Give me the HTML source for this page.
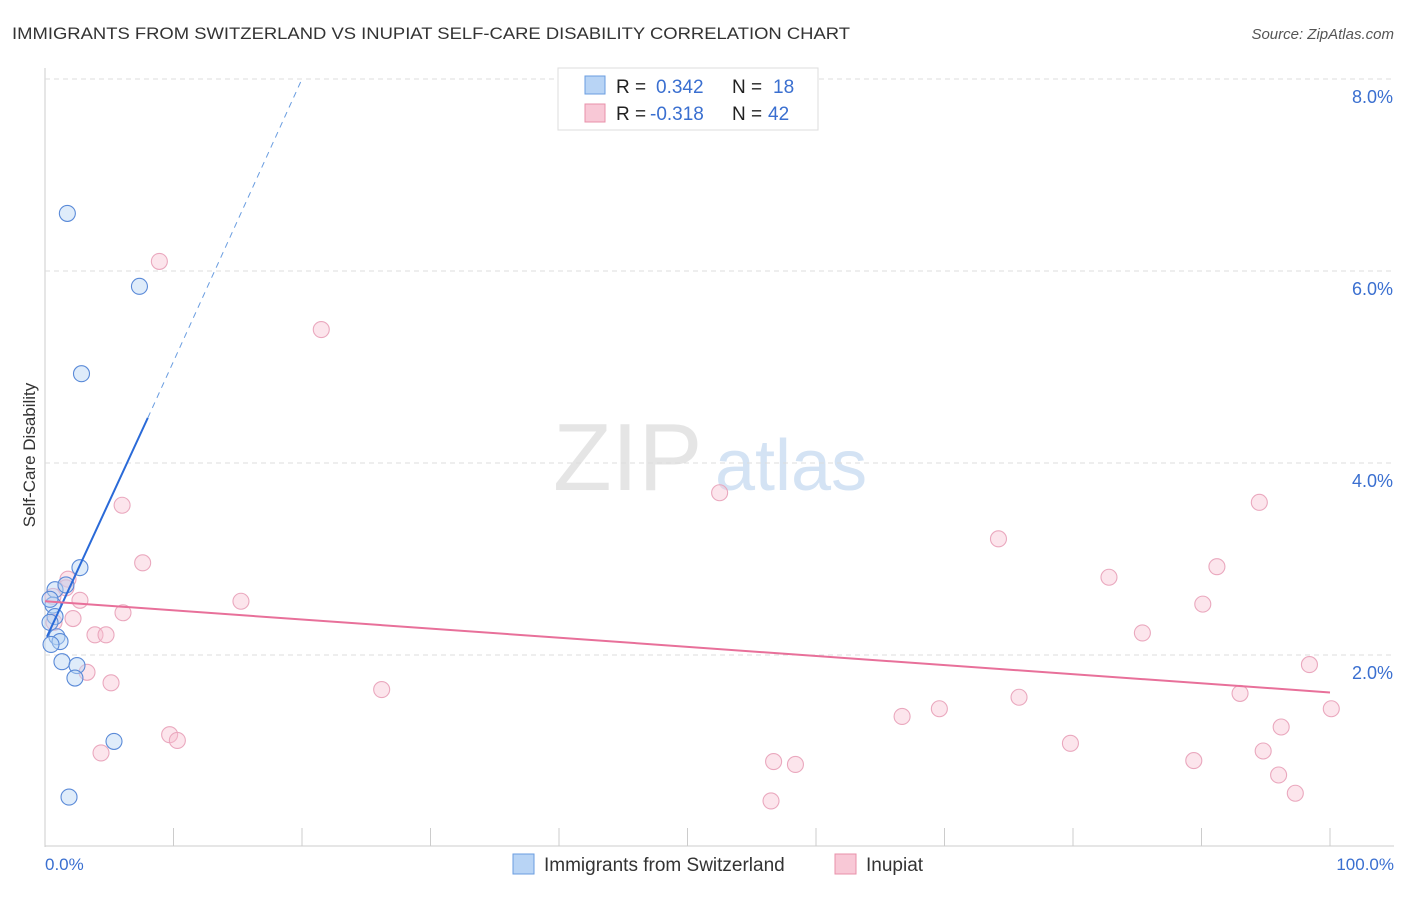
<!DOCTYPE html>
<html><head><meta charset="utf-8"><style>
body{margin:0;background:#fff;font-family:"Liberation Sans",sans-serif;}
svg text{font-family:"Liberation Sans",sans-serif;}
</style></head><body>
<svg id="chart" width="1406" height="892" xmlns="http://www.w3.org/2000/svg">
<text x="12" y="39" font-size="17" fill="#333" textLength="838" lengthAdjust="spacingAndGlyphs">IMMIGRANTS FROM SWITZERLAND VS INUPIAT SELF-CARE DISABILITY CORRELATION CHART</text>
<text x="1394" y="39" font-size="15" fill="#555" font-style="italic" text-anchor="end">Source: ZipAtlas.com</text>
<g opacity="0.5">
<text x="553" y="490" font-size="96" fill="#ccc" font-family="Liberation Serif,serif">ZIP</text>
<text x="715" y="490" font-size="72" fill="#aac8ea">atlas</text>
</g>
<g id="grid"></g>
<g id="marks"></g>
<text x="35" y="455" font-size="17" fill="#333" transform="rotate(-90 35 455)" text-anchor="middle">Self-Care Disability</text>
<text x="45" y="870" font-size="17" fill="#3a6fd0">0.0%</text>
<text x="1394" y="870" font-size="17" fill="#3a6fd0" text-anchor="end">100.0%</text>
<g>
<rect x="558" y="68" width="260" height="62" fill="#fff" stroke="#ddd"/>
<rect x="585" y="76" width="20" height="18" fill="#b8d4f5" stroke="#6a9de0"/>
<rect x="585" y="104" width="20" height="18" fill="#f8c8d6" stroke="#e890aa"/>
<text x="616" y="93" font-size="19" fill="#222">R =</text><text x="656" y="93" font-size="19" fill="#3a6fd0">0.342</text>
<text x="732" y="93" font-size="19" fill="#222">N =</text><text x="773" y="93" font-size="19" fill="#3a6fd0">18</text>
<text x="616" y="120" font-size="19" fill="#222">R =</text><text x="650" y="120" font-size="19" fill="#3a6fd0">-0.318</text>
<text x="732" y="120" font-size="19" fill="#222">N =</text><text x="768" y="120" font-size="19" fill="#3a6fd0">42</text>
</g>
<g>
<rect x="513" y="854" width="21" height="20" fill="#b8d4f5" stroke="#6a9de0"/>
<text x="544" y="871" font-size="19" fill="#333">Immigrants from Switzerland</text>
<rect x="835" y="854" width="21" height="20" fill="#f8c8d6" stroke="#e890aa"/>
<text x="866" y="871" font-size="19" fill="#333">Inupiat</text>
</g>
</svg>
<script>
const yTicks=[2,4,6,8];
const yTickLabels=["2.0%","4.0%","6.0%","8.0%"];
const blueX=[1.74,7.35,2.84,2.72,0.78,1.63,0.62,0.78,0.39,0.93,1.17,0.47,1.32,2.49,2.33,5.37,1.87,0.39];
const blueY=[6.6,5.84,4.93,2.91,2.68,2.73,2.52,2.40,2.34,2.19,2.14,2.11,1.93,1.89,1.76,1.10,0.52,2.58];
const pinkX=[8.9,21.5,6.0,52.5,7.6,94.5,74.2,82.8,91.2,1.79,1.63,2.72,0.62,6.07,15.25,90.1,2.18,0.70,3.89,4.75,85.4,98.4,3.27,5.14,26.2,75.8,93.0,66.7,69.6,100.1,96.2,9.7,10.3,79.8,4.36,94.8,56.7,58.4,89.4,96.0,56.5,97.3];
const pinkY=[6.1,5.39,3.56,3.69,2.96,3.59,3.21,2.81,2.92,2.79,2.70,2.57,2.61,2.44,2.56,2.53,2.38,2.34,2.21,2.21,2.23,1.90,1.82,1.71,1.64,1.56,1.60,1.36,1.44,1.44,1.25,1.17,1.11,1.08,0.98,1.00,0.89,0.86,0.90,0.75,0.48,0.56];
const blueTrend=[[0.15,2.19],[8.0,4.47],[20,8.0]];
const pinkTrend=[[0,2.56],[100,1.61]];
const X=v=>45+v*12.85, Y=v=>847-v*96;
const NS="http://www.w3.org/2000/svg";
const grid=document.getElementById('grid'), marks=document.getElementById('marks');
function mk(tag,attrs,parent){const e=document.createElementNS(NS,tag);for(const k in attrs)e.setAttribute(k,attrs[k]);parent.appendChild(e);return e;}
mk('line',{x1:45,y1:68,x2:45,y2:847,stroke:'#ccc'},grid);
mk('line',{x1:45,y1:846,x2:1394,y2:846,stroke:'#ccc'},grid);
for(let i=1;i<=10;i++){mk('line',{x1:X(i*10),y1:828,x2:X(i*10),y2:846,stroke:'#ccc'},grid);}
yTicks.forEach((t,i)=>{
 const g=mk('line',{x1:45,y1:Y(t),x2:1394,y2:Y(t),stroke:'#ddd','stroke-dasharray':'5,4'},grid);
 
 
 const tx=mk('text',{x:1393,y:Y(t)+24,'font-size':18,fill:'#3a6fd0','text-anchor':'end'},grid);
 tx.textContent=yTickLabels[i];
 
 
});
pinkX.forEach((x,i)=>{
 const c=mk('circle',{cx:X(x),cy:Y(pinkY[i]),r:8,fill:'rgba(248,190,208,0.4)',stroke:'#eaa8be','stroke-width':1.1},marks);
 
 
});
blueX.forEach((x,i)=>{
 const c=mk('circle',{cx:X(x),cy:Y(blueY[i]),r:8,fill:'rgba(184,212,245,0.45)',stroke:'#5a8ad8','stroke-width':1.1},marks);
 
 
});
const bl=mk('line',{x1:X(blueTrend[0][0]),y1:Y(blueTrend[0][1]),x2:X(blueTrend[1][0]),y2:Y(blueTrend[1][1]),stroke:'#2a6ad8','stroke-width':2},marks);


const bd=mk('line',{x1:X(blueTrend[1][0]),y1:Y(blueTrend[1][1]),x2:X(blueTrend[2][0]),y2:Y(blueTrend[2][1]),stroke:'#6a9de0','stroke-width':1,'stroke-dasharray':'6,5'},marks);


const pl=mk('line',{x1:X(pinkTrend[0][0]),y1:Y(pinkTrend[0][1]),x2:X(pinkTrend[1][0]),y2:Y(pinkTrend[1][1]),stroke:'#e8709a','stroke-width':2},marks);


</script>
</body></html>
